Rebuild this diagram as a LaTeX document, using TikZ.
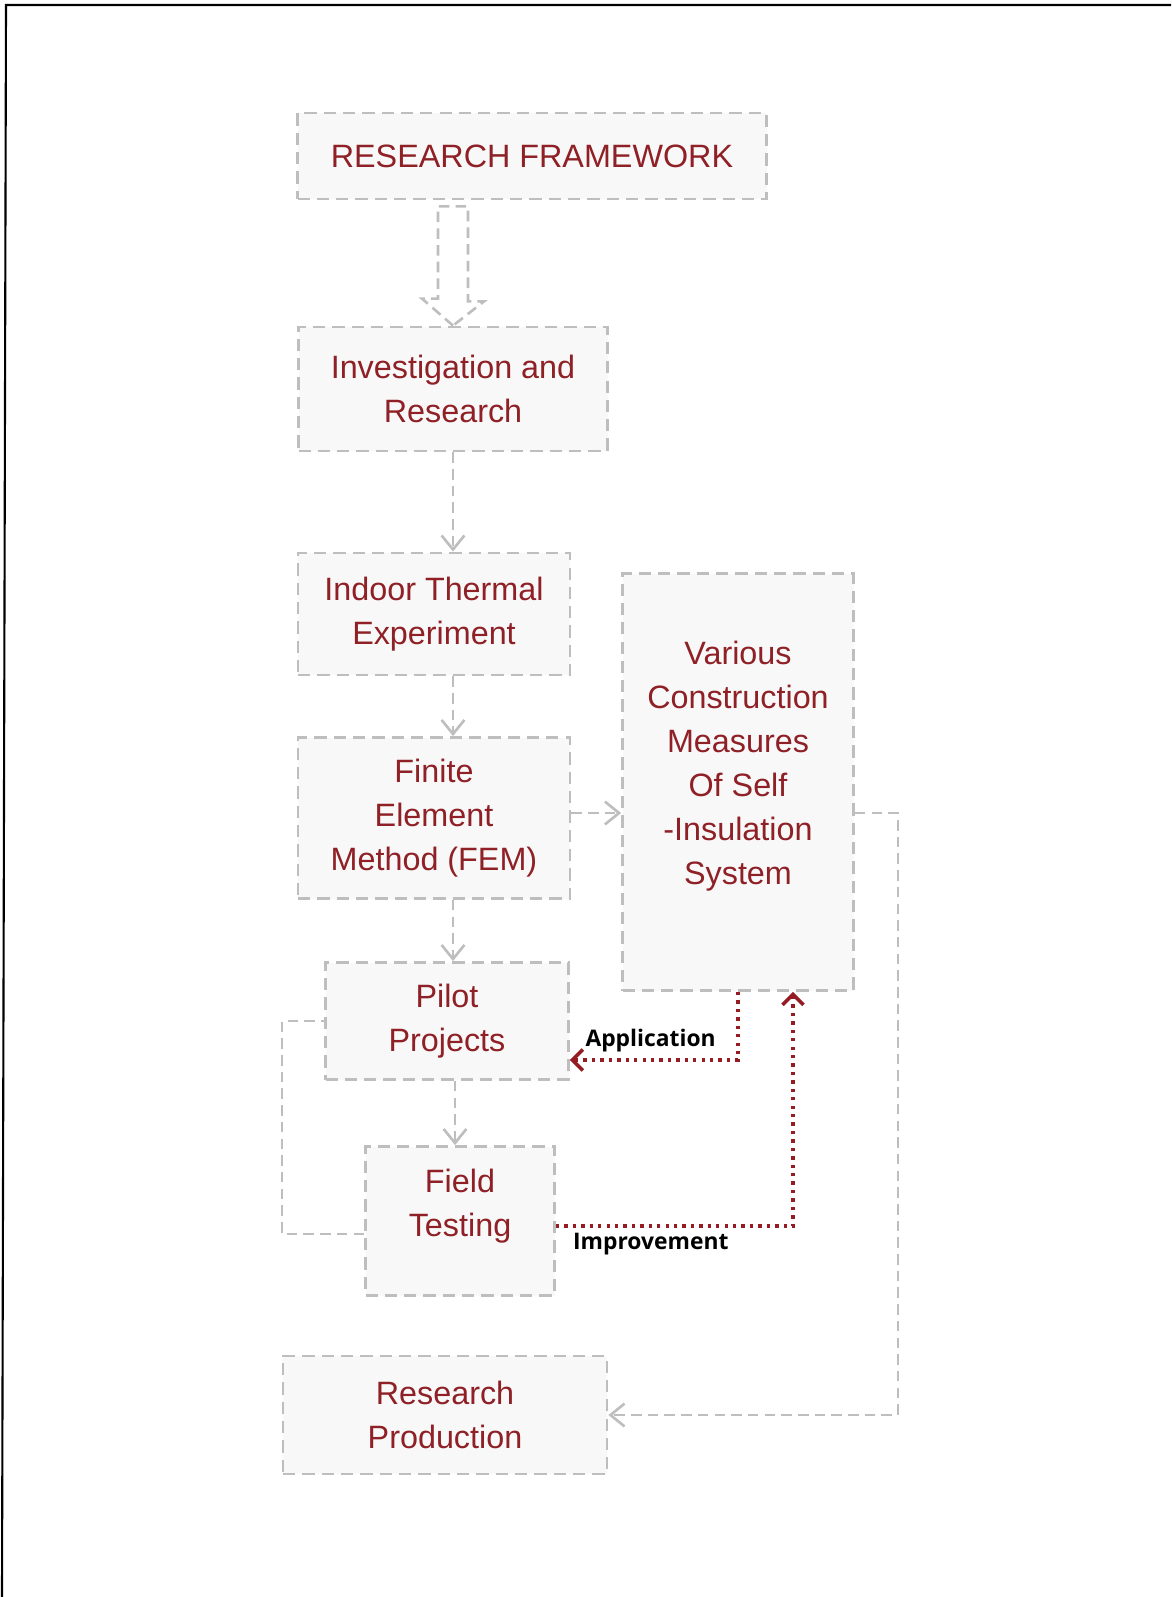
\documentclass[tikz,border=0pt]{standalone}
\usepackage{fontspec}
\setmainfont{Liberation Sans}
\newfontfamily\tagfamily{Open Sans}
\usetikzlibrary{calc}
\usetikzlibrary{arrows.meta}
\definecolor{boxline}{RGB}{190,190,190}
\definecolor{boxfill}{RGB}{248,248,248}
\definecolor{boxtext}{RGB}{142,32,38}
\definecolor{linkred}{RGB}{150,28,36}
\newcommand{\pxu}{0.02cm}
\newcommand{\boxfont}{\fontsize{18.4}{25}\selectfont}
\newcommand{\tagfont}{\tagfamily\bfseries\fontsize{13}{15}\selectfont}

\begin{document}
\begin{tikzpicture}[x=\pxu, y=-\pxu,
    box/.style={draw=boxline, fill=boxfill, line width=1.6pt,
      dash pattern=on 7pt off 4pt, inner sep=0pt},
    txt/.style={text=boxtext, font=\boxfont, align=center},
    link/.style={draw=boxline, line width=1.5pt, dash pattern=on 6pt off 3.5pt,
      -{Straight Barb[length=8pt,width=13pt]}},
    fixlink/.style={draw=linkred, line width=2pt, dash pattern=on 1.9pt off 2.9pt,
      -{Straight Barb[length=6pt,width=12pt]}},
    blockarrow/.style={draw=boxline, fill=white, line width=1.5pt,
      dash pattern=on 6pt off 3.5pt},
    tag/.style={font=\tagfont, text=black}]
  \useasboundingbox (0,0) rectangle (1171,1597);
  % frame of the scan
  \draw[line width=1.2pt] (1171,5) -- (6,5) -- (2,1597);

  \begin{scope}
    \node[box, txt, minimum width=469*\pxu, minimum height=86*\pxu]
      (rf) at (532,156) {RESEARCH FRAMEWORK};
    \node[box, txt, minimum width=309*\pxu, minimum height=124*\pxu]
      (inv) at (453,389) {Investigation and\\Research};
    \node[box, txt, minimum width=272*\pxu, minimum height=122*\pxu]
      (indoor) at (434,614) {Indoor Thermal\\Experiment};
    \node[box, txt, minimum width=272*\pxu, minimum height=161*\pxu]
      (fem) at (434,818) {Finite\\Element\\Method (FEM)};
    \node[box, minimum width=231*\pxu, minimum height=417*\pxu]
      (various) at (738,782) {};
    \node[txt] (various-txt) at ($(various)+(0,-16)$)
      {Various\\Construction\\Measures\\Of Self\\-Insulation\\System};
    \node[box, txt, minimum width=243*\pxu, minimum height=117*\pxu]
      (pilot) at (447,1021) {Pilot\\Projects};
    \node[box, minimum width=189*\pxu, minimum height=149*\pxu]
      (field) at (460,1221) {};
    \node[txt] (field-txt) at ($(field)+(0,-15)$) {Field\\Testing};
    \node[box, txt, minimum width=324*\pxu, minimum height=118*\pxu]
      (rp) at (445,1415) {Research\\Production};
  \end{scope}

  % hollow arrow under the title
  \draw[blockarrow] (inv.north) -- ++(-31,-27) -- ++(16,0)
    -- ($(inv.north |- rf.south)+(-15,6)$) -- ++(30,0) -- ++(0,95)
    -- ++(16,0) -- cycle;

  \begin{scope}
    \draw[link] (inv.south) -- (inv.south |- indoor.north);
    \draw[link] (indoor.south -| inv.south) -- (fem.north -| inv.south);
    \draw[link] (fem.south -| inv.south) -- (pilot.north -| inv.south);
    \draw[link] ($(pilot.south -| inv.south)+(2,0)$)
      -- ($(field.north -| inv.south)+(2,0)$);
    \draw[link] ($(fem.east)+(0,-5)$) -- ($(fem.east -| various.west)+(0,-5)$);
    \draw[link] ($(fem.east -| various.east)+(0,-5)$) -- ++(43,0) |- (rp.east);
    \draw[draw=boxline, line width=1.5pt, dash pattern=on 6pt off 3.5pt]
      ($(field.west)+(0,13)$) -- ++(-82,0) |- (pilot.west);
  \end{scope}

  \begin{scope}
    \draw[fixlink] (various.south) |- node[pos=0.76, above, tag] {Application}
      ($(pilot.east)+(0,39)$);
    \draw[fixlink] ($(field.east)+(0,5)$) -| node[pos=0.2, below, tag] {Improvement}
      ($(various.south)+(55,0)$);
  \end{scope}
\end{tikzpicture}
\end{document}
